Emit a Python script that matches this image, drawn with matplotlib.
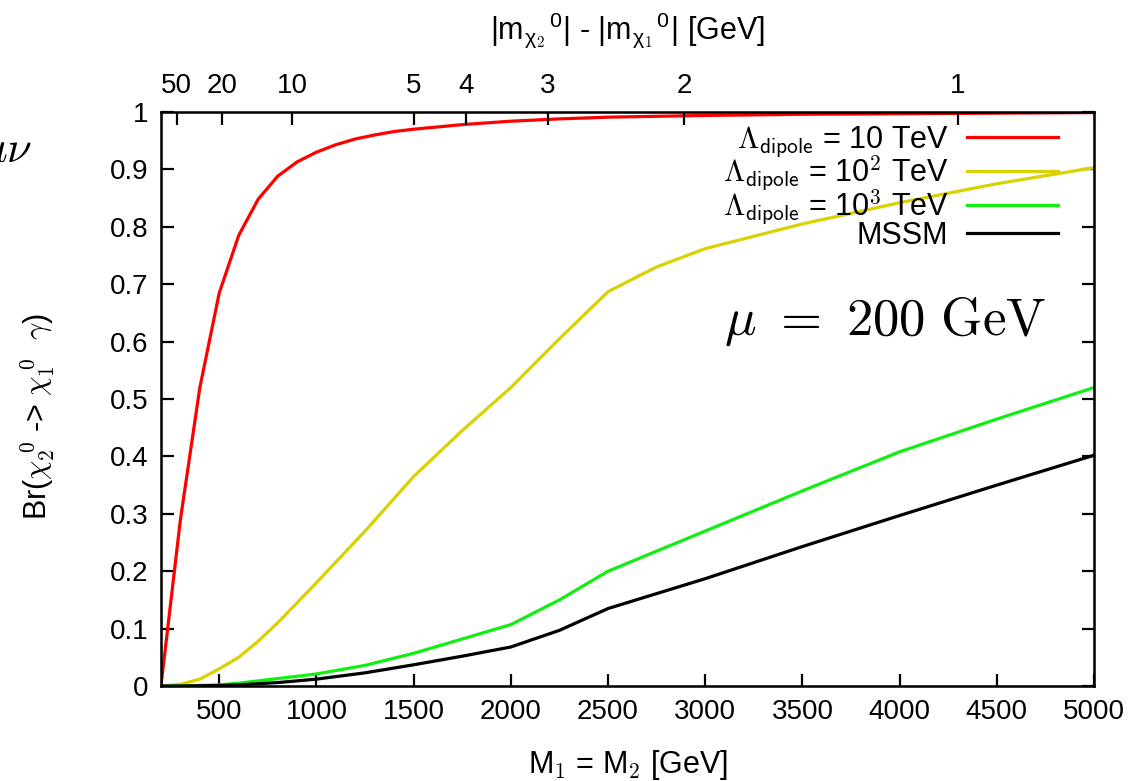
import matplotlib
matplotlib.use("Agg")
import matplotlib.pyplot as plt

plt.rcParams['font.family'] = ['Liberation Sans', 'DejaVu Sans']
plt.rcParams['mathtext.fontset'] = 'cm'

# M1 = M2 [GeV]
m_red = [200, 300, 400, 500, 600, 700, 800, 900, 1000, 1100, 1200, 1300, 1400, 1500,
         1750, 2000, 2250, 2500, 3000, 3500, 4000, 4500, 5000]
br_red = [0.0, 0.29, 0.52, 0.685, 0.785, 0.848, 0.888, 0.913, 0.93, 0.943, 0.953, 0.96,
          0.966, 0.97, 0.978, 0.984, 0.988, 0.991, 0.994, 0.996, 0.997, 0.998, 0.999]

m_other = [200, 300, 400, 500, 600, 700, 800, 900, 1000, 1250, 1500, 1750, 2000, 2250,
           2500, 2750, 3000, 3500, 4000, 4500, 5000]
br_yellow = [0.0, 0.003, 0.012, 0.03, 0.05, 0.078, 0.11, 0.145, 0.18, 0.27, 0.365, 0.445,
             0.52, 0.605, 0.687, 0.73, 0.762, 0.805, 0.842, 0.875, 0.903]
br_green = [0.0, 0.0005, 0.001, 0.002, 0.005, 0.009, 0.013, 0.017, 0.021, 0.036, 0.057,
            0.082, 0.107, 0.15, 0.2, 0.235, 0.27, 0.34, 0.408, 0.465, 0.52]
br_black = [0.0, 0.0, 0.0005, 0.001, 0.002, 0.004, 0.006, 0.009, 0.012, 0.023, 0.037,
            0.052, 0.068, 0.097, 0.135, 0.161, 0.187, 0.243, 0.297, 0.35, 0.402]

labels = [r'$\Lambda_{\mathsf{dipole}}$ = 10 TeV',
          r'$\Lambda_{\mathsf{dipole}}$ = 10$^2$ TeV',
          r'$\Lambda_{\mathsf{dipole}}$ = 10$^3$ TeV',
          'MSSM']

# top axis: mass splitting at given M1
top_pos = [280, 515, 875, 1500, 1770, 2190, 2890, 4300]
top_lab = ['50', '20', '10', '5', '4', '3', '2', '1']

fig = plt.figure(figsize=(11.36, 7.81), dpi=100)
ax = fig.add_axes([0.1417, 0.1216, 0.8213, 0.735])

lw = 2.3
ax.plot(m_red, br_red, color='#ff0000', lw=lw, label=labels[0])
ax.plot(m_other, br_yellow, color='#d9d100', lw=lw, label=labels[1])
ax.plot(m_other, br_green, color='#11ee11', lw=lw, label=labels[2])
ax.plot(m_other, br_black, color='black', lw=lw, label=labels[3])

ax.set_xlim(200, 5000)
ax.set_ylim(0, 1)
ax.set_xticks([500, 1000, 1500, 2000, 2500, 3000, 3500, 4000, 4500, 5000])
ax.set_yticks([0, 0.1, 0.2, 0.3, 0.4, 0.5, 0.6, 0.7, 0.8, 0.9, 1])
ax.set_yticklabels(['0', '0.1', '0.2', '0.3', '0.4', '0.5', '0.6', '0.7', '0.8', '0.9', '1'])
ax.tick_params(axis='both', direction='in', length=9, width=1.6, labelsize=20, pad=9)
ax.tick_params(axis='y', right=True)
for s in ax.spines.values():
    s.set_linewidth(1.8)

ax.set_xlabel(r'M$_1$ = M$_2$ [GeV]', fontsize=22, va='center')
ax.xaxis.set_label_coords(0.5, -0.137)
ax.set_ylabel(r'Br($\chi_2^{\;0}$ -> $\chi_1^{\;0}$  $\gamma$)', fontsize=22, va='center')
ax.yaxis.set_label_coords(-0.132, 0.47)

top = ax.twiny()
top.set_xlim(ax.get_xlim())
top.set_xticks(top_pos)
top.set_xticklabels(top_lab)
top.tick_params(axis='x', direction='in', length=9, width=1.6, labelsize=20, pad=9)
top.set_xlabel(r'|m$_{\mathregular{χ}_2}{}^{\mathregular{0}}$| - |m$_{\mathregular{χ}_1}{}^{\mathregular{0}}$| [GeV]',
               fontsize=22, va='center')
top.xaxis.set_label_coords(0.5, 1.143)

ax.legend(loc='upper right', bbox_to_anchor=(0.975, 1.0), frameon=False, fontsize=22,
          markerfirst=False, handlelength=3.0, handletextpad=0.6, labelspacing=-0.2,
          borderaxespad=0)

ax.text(0.603, 0.635, r'$\mu\ =\ 200\ \mathrm{GeV}$', transform=ax.transAxes,
        fontsize=38, ha='left', va='center')
fig.text(-0.018, 0.805, r'$\mu\nu$', fontsize=32, ha='left', va='center')

fig.savefig('out.png', dpi=100)
